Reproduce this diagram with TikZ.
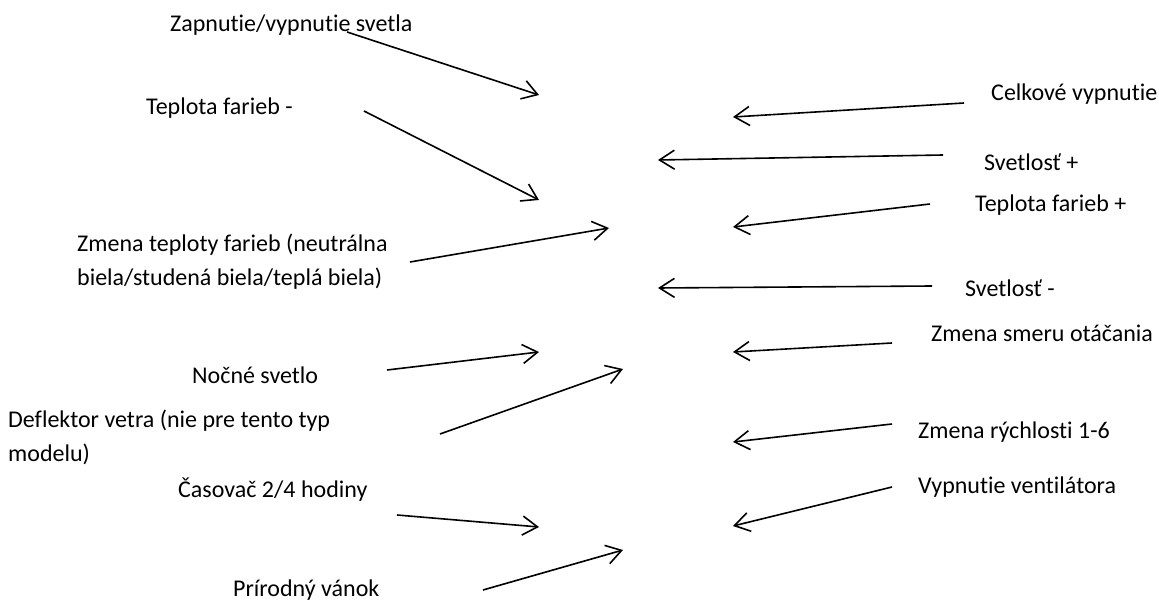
\documentclass[tikz,border=0pt]{standalone}
\usepackage{fontspec}
\setmainfont{Carlito}[Ligatures=NoCommon]
\usetikzlibrary{arrows.meta}
\begin{document}
\begin{tikzpicture}[x=1pt,y=-1pt,
  lbl/.style={anchor=base west,inner sep=0pt,align=left,
    font={\fontsize{24}{34}\selectfont},text=black},
  arr/.style={line width=1.6pt,-{Straight Barb[length=15pt,width=19pt,line width=1.6pt]}}]
\useasboundingbox (0,0) rectangle (1159,601);
% left labels (base = baseline of the last line)
\node[lbl] (zap) at (170,32) {Zapnutie/vypnutie svetla};
\node[lbl] (tepm) at (146,115) {Teplota farieb -};
\node[lbl] (zmt) at (77,286) {Zmena teploty farieb (neutrálna\\biela/studená biela/teplá biela)};
\node[lbl] (noc) at (192,384) {Nočné svetlo};
\node[lbl] (def) at (8,461) {Deflektor vetra (nie pre tento typ\\modelu)};
\node[lbl] (cas) at (178,497) {Časovač 2/4 hodiny};
\node[lbl] (pri) at (233,596) {Prírodný vánok};
% right labels
\node[lbl] (cel) at (991,101) {Celkové vypnutie};
\node[lbl] (svp) at (984,171) {Svetlosť +};
\node[lbl] (tepp) at (975,212) {Teplota farieb +};
\node[lbl] (svm) at (965,297) {Svetlosť -};
\node[lbl] (smer) at (931,342) {Zmena smeru otáčania};
\node[lbl] (ryc) at (918,438) {Zmena rýchlosti 1-6};
\node[lbl] (vyp) at (918,493) {Vypnutie ventilátora};
% arrow ends
\coordinate (zapS) at (347,32);   \coordinate (zapT) at (539,95);
\coordinate (tepmS) at (364,111); \coordinate (tepmT) at (539,200);
\coordinate (zmtS) at (410,262);  \coordinate (zmtT) at (609,228);
\coordinate (nocS) at (387,370);  \coordinate (nocT) at (539,352);
\coordinate (defS) at (440,434);  \coordinate (defT) at (623,369);
\coordinate (casS) at (397,515);  \coordinate (casT) at (539,527);
\coordinate (priS) at (483,590);  \coordinate (priT) at (623,550);
\coordinate (celS) at (964,103);  \coordinate (celT) at (733,117);
\coordinate (svpS) at (943,155);  \coordinate (svpT) at (658,160);
\coordinate (teppS) at (930,204); \coordinate (teppT) at (733,227);
\coordinate (svmS) at (932,286);  \coordinate (svmT) at (658,288);
\coordinate (smerS) at (892,343); \coordinate (smerT) at (733,352);
\coordinate (rycS) at (892,424);  \coordinate (rycT) at (733,442);
\coordinate (vypS) at (892,487);  \coordinate (vypT) at (733,526);
% arrows
\foreach \n in {zap,tepm,zmt,noc,def,cas,pri,cel,svp,tepp,svm,smer,ryc,vyp}
  \draw[arr] (\n S) -- (\n T);
\end{tikzpicture}
\end{document}
